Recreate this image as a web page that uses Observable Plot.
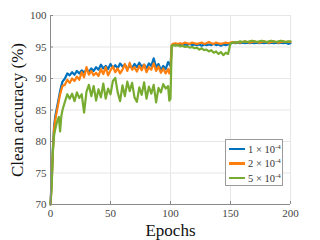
<!DOCTYPE html>
<html>
<head>
<meta charset="utf-8">
<script src="https://cdn.jsdelivr.net/npm/d3@7"></script>
<script src="https://cdn.jsdelivr.net/npm/@observablehq/plot@0.6"></script>
<style>
  body { margin: 0; background: white; }
  #wrap { position: relative; width: 320px; height: 240px; }
  #wrap svg, #wrap svg text { font-family: "Liberation Serif", "Times New Roman", serif !important; }
  #legend {
    position: absolute; left: 225px; top: 139px; width: 58px; height: 47px;
    border: 1px solid #9a9a9a; background: white; box-sizing: border-box;
    font-family: "Liberation Serif", "Times New Roman", serif; font-size: 10.5px; color: #333;
  }
  .row { position: absolute; left: 3px; height: 12px; display: flex; align-items: center; white-space: nowrap; }
  .sw { width: 16px; height: 2.5px; margin-right: 3px; }
  sup { font-size: 7px; vertical-align: 4px; line-height: 0; }
</style>
</head>
<body>
<div id="wrap"><div id="legend"></div></div>
<script>
const epochs = [
  0,1,2,3,4,5,6,7,8,9,
  10,12,14,16,18,20,22,24,26,28,
  30,32,34,36,38,40,42,44,46,48,
  50,52,54,56,58,60,62,64,66,68,
  70,72,74,76,78,80,82,84,86,88,
  90,92,94,96,98,99,100,101,102,104,
  106,108,110,112,114,116,118,120,122,124,
  126,128,130,132,134,136,138,140,142,144,
  146,148,150,152,154,156,158,160,162,164,
  166,168,170,172,174,176,178,180,182,184,
  186,188,190,192,194,196,198,200
];
const acc1e4 = [
  70,74,79,82.5,84,85,86,87,88,88.8,
  89.5,90.0,90.8,90.5,91.0,90.6,91.2,90.8,91.3,90.9,
  91.5,91.0,91.6,91.2,91.8,91.4,92.2,91.6,92.0,91.5,
  92.3,91.7,92.1,91.6,92.4,91.9,92.2,91.5,92.0,91.7,
  92.3,91.8,92.5,91.9,92.2,91.6,92.4,92.0,93.2,91.8,
  92.3,91.3,92.0,91.5,92.6,92.3,92.0,95.1,95.3,95.4,
  95.3,95.4,95.3,95.4,95.3,95.5,95.3,95.4,95.3,95.4,
  95.2,95.4,95.3,95.4,95.3,95.5,95.3,95.4,95.2,95.4,
  95.3,95.4,95.5,95.7,95.6,95.7,95.6,95.7,95.6,95.7,
  95.6,95.7,95.6,95.7,95.6,95.7,95.6,95.7,95.6,95.7,
  95.6,95.7,95.6,95.7,95.6,95.7,95.5,95.6
];
const acc2e4 = [
  70,73.5,78.5,82,83.5,84.5,85.5,86.5,87.5,88.2,
  88.8,89.0,89.8,89.3,90.0,89.6,90.3,89.8,91.0,90.2,
  91.8,90.6,91.2,90.5,90.9,90.4,91.5,90.7,91.8,90.5,
  91.3,91.9,91.0,91.6,90.8,91.4,92.3,91.2,92.5,91.4,
  91.8,91.1,92.0,91.3,92.2,91.0,91.8,91.4,92.4,91.2,
  91.9,90.9,91.6,90.8,91.5,90.8,91.2,95.3,95.5,95.6,
  95.5,95.6,95.5,95.7,95.6,95.5,95.7,95.6,95.5,95.6,
  95.7,95.5,95.6,95.8,95.6,95.5,95.7,95.6,95.5,95.6,
  95.7,95.6,95.7,95.8,95.7,95.8,95.7,95.8,95.9,95.8,
  95.7,95.8,95.9,95.8,95.7,95.8,95.9,95.8,95.7,95.8,
  95.9,95.8,95.7,95.8,95.9,95.8,95.8,95.8
];
const acc5e4 = [
  70,73,78.5,81,82,82.8,83.5,83.9,81.6,84.0,
  85.0,86.3,87.5,86.8,87.6,86.4,87.8,86.9,87.5,84.6,
  87.9,89.0,87.2,88.8,86.5,88.3,87.0,89.2,86.8,88.4,
  87.5,89.6,90.1,87.8,86.4,88.9,87.2,89.5,88.0,89.3,
  87.0,86.3,88.6,87.4,89.4,86.8,88.7,87.6,89.0,86.2,
  88.5,87.8,89.1,88.4,88.8,86.5,86.8,95.2,95.3,95.2,
  95.3,95.1,95.2,95.0,95.1,94.9,95.0,94.8,94.9,94.6,
  94.8,94.5,94.6,94.3,94.5,94.1,94.3,93.9,94.2,93.7,
  94.1,93.9,95.6,95.7,95.8,95.7,95.9,95.8,95.9,95.8,
  95.9,96.0,95.9,95.8,95.9,96.0,95.9,95.8,95.9,96.0,
  95.9,95.8,95.9,96.0,95.9,95.8,95.9,95.9
];
const seriesLabels = ["1 × 10", "2 × 10", "5 × 10"];
const seriesExp = "-4";
const colors = ["#0072BD", "#FF7F0E", "#77AC30"];
const xTicks = [0, 50, 100, 150, 200];
const yTicks = [70, 75, 80, 85, 90, 95, 100];
const xLabel = "Epochs";
const yLabel = "Clean accuracy (%)";

const allSeries = [acc1e4, acc2e4, acc5e4];
const tables = allSeries.map(vals => epochs.map((e, i) => ({epoch: e, acc: vals[i]})));

const serif = "Liberation Serif, Times New Roman, serif";
const chart = Plot.plot({
  width: 320, height: 240,
  marginLeft: 50, marginRight: 30, marginTop: 15, marginBottom: 36,
  style: {fontFamily: serif, fontSize: "11px", color: "#444", background: "white"},
  x: {domain: [0, 200]},
  y: {domain: [70, 100]},
  marks: [
    Plot.gridX(xTicks, {stroke: "#e6e6e6", strokeOpacity: 1}),
    Plot.gridY(yTicks, {stroke: "#e6e6e6", strokeOpacity: 1}),
    ...tables.map((t, k) => Plot.line(t, {x: "epoch", y: "acc", stroke: colors[k], strokeWidth: 2.2, strokeLinejoin: "round"})),
    Plot.ruleX([0], {stroke: "#8a8a8a", strokeWidth: 1}),
    Plot.ruleY([70], {stroke: "#8a8a8a", strokeWidth: 1}),
    Plot.tickX(xTicks, {x: d => d, insetTop: 186, stroke: "#8a8a8a"}),
    Plot.tickY(yTicks, {y: d => d, insetRight: 237, stroke: "#8a8a8a"}),
    Plot.axisX(xTicks, {tickSize: 0, tickPadding: 5, label: null, fill: "#444", fontFamily: serif, fontSize: 11}),
    Plot.axisY(yTicks, {tickSize: 0, tickPadding: 4, label: null, fill: "#444", fontFamily: serif, fontSize: 11}),
    Plot.text([yLabel], {text: d => d, frameAnchor: "left", dx: -33, rotate: -90, textAnchor: "middle", lineAnchor: "middle", fontSize: 17, fontFamily: serif, fill: "#111"}),
    Plot.text([xLabel], {text: d => d, frameAnchor: "bottom", dy: 26, textAnchor: "middle", lineAnchor: "middle", fontSize: 17, fontFamily: serif, fill: "#111"})
  ]
});
document.getElementById("wrap").prepend(chart);

const legend = document.getElementById("legend");
const rowTops = [3, 17.5, 32];
seriesLabels.forEach((lab, k) => {
  const row = document.createElement("div");
  row.className = "row";
  row.style.top = rowTops[k] + "px";
  row.innerHTML = `<div class="sw" style="background:${colors[k]}"></div><span>${lab}<sup>${seriesExp}</sup></span>`;
  legend.appendChild(row);
});
</script>
</body>
</html>
